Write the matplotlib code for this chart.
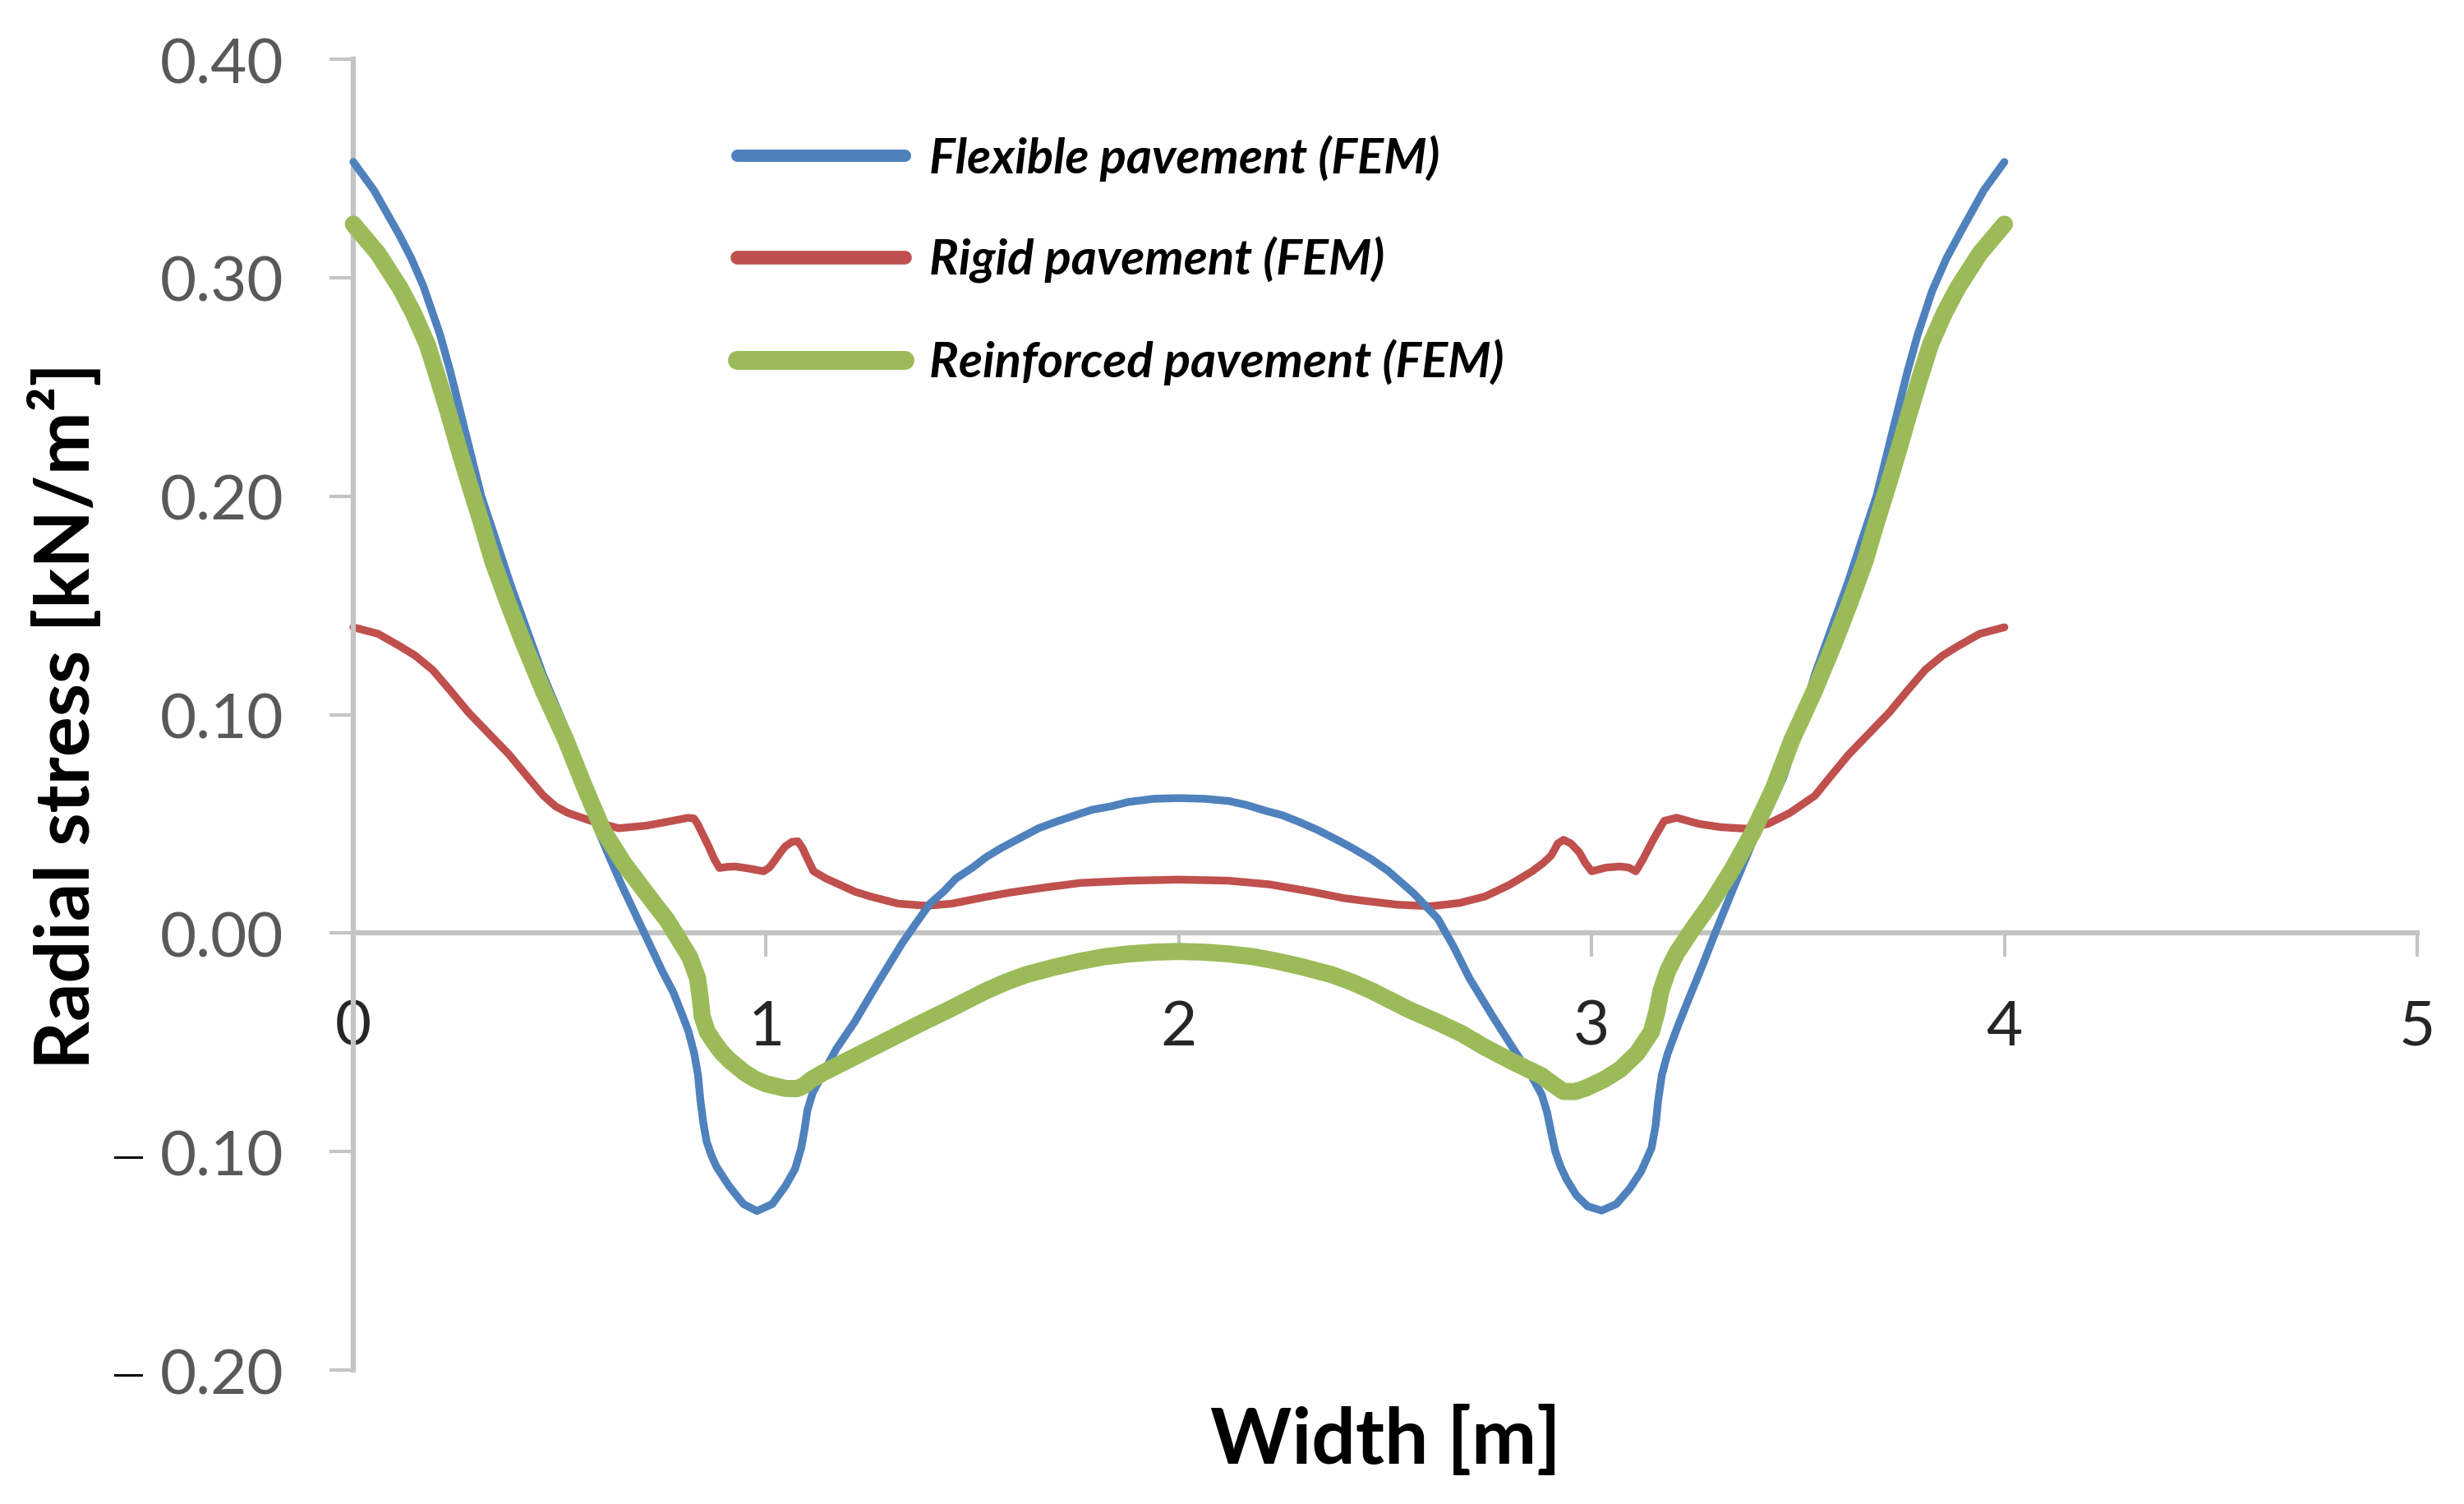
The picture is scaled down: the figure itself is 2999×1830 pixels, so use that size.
import matplotlib

matplotlib.use("Agg")

import matplotlib.pyplot as plt
import matplotlib.transforms as mtransforms

plt.rcParams.update({
    "font.family": ["Lato", "DejaVu Sans"],
})

BLUE = "#4F81BD"
RED = "#C0504D"
GREEN = "#9BBB59"
AXIS_GREY = "#C4C4C4"

# --- data: (width m, radial stress kN/m2) -----------------------------------
flexible = [
    (0.00, 0.353), (0.05, 0.340), (0.11, 0.320), (0.14, 0.309), (0.17, 0.296),
    (0.21, 0.274), (0.235, 0.257), (0.26, 0.238), (0.285, 0.219), (0.31, 0.200),
    (0.34, 0.183), (0.38, 0.160), (0.42, 0.139), (0.46, 0.118), (0.50, 0.100),
    (0.53, 0.086), (0.56, 0.068), (0.59, 0.0485), (0.62, 0.035), (0.65, 0.022),
    (0.70, 0.002), (0.75, -0.018), (0.775, -0.027), (0.795, -0.0365), (0.812, -0.045),
    (0.826, -0.0552), (0.835, -0.065), (0.841, -0.0768), (0.848, -0.087), (0.856, -0.0955),
    (0.868, -0.102), (0.88, -0.107), (0.91, -0.1157), (0.945, -0.124), (0.978, -0.1272),
    (1.015, -0.124), (1.047, -0.1157), (1.07, -0.108), (1.085, -0.0984), (1.093, -0.090),
    (1.10, -0.0811), (1.113, -0.073), (1.131, -0.0667), (1.17, -0.053), (1.214, -0.0408),
    (1.27, -0.023), (1.329, -0.0048), (1.365, 0.005), (1.397, 0.0135), (1.43, 0.019),
    (1.46, 0.025), (1.50, 0.030), (1.534, 0.0349), (1.57, 0.039), (1.62, 0.044),
    (1.66, 0.048), (1.706, 0.0512), (1.75, 0.054), (1.79, 0.0565), (1.835, 0.058),
    (1.877, 0.060), (1.94, 0.0615), (2.00, 0.0618), (2.06, 0.0615), (2.12, 0.0605),
    (2.163, 0.0587), (2.21, 0.056), (2.25, 0.054), (2.29, 0.051), (2.334, 0.0474),
    (2.38, 0.043), (2.42, 0.039), (2.465, 0.034), (2.506, 0.0286), (2.54, 0.023),
    (2.57, 0.018), (2.60, 0.012), (2.627, 0.0067), (2.665, -0.006), (2.704, -0.0207),
    (2.76, -0.038), (2.818, -0.0552), (2.85, -0.064), (2.879, -0.0739), (2.892, -0.082),
    (2.902, -0.0912), (2.912, -0.100), (2.925, -0.107), (2.94, -0.113), (2.963, -0.120),
    (2.99, -0.125), (3.024, -0.127), (3.06, -0.124), (3.092, -0.117), (3.12, -0.109),
    (3.145, -0.0984), (3.155, -0.088), (3.161, -0.0768), (3.17, -0.065), (3.184, -0.0552),
    (3.21, -0.042), (3.237, -0.0293), (3.268, -0.015), (3.298, -0.0005), (3.34, 0.019),
    (3.389, 0.0413), (3.43, 0.057), (3.465, 0.0715), (3.50, 0.092), (3.54, 0.118),
    (3.58, 0.139), (3.62, 0.160), (3.66, 0.183), (3.69, 0.200), (3.715, 0.219),
    (3.74, 0.238), (3.765, 0.257), (3.79, 0.274), (3.825, 0.294), (3.86, 0.309),
    (3.90, 0.323), (3.95, 0.340), (4.00, 0.353),
]

rigid = [
    (0.00, 0.140), (0.06, 0.137), (0.113, 0.1313), (0.15, 0.127), (0.192, 0.1205),
    (0.235, 0.111), (0.279, 0.101), (0.33, 0.091), (0.378, 0.0816), (0.42, 0.072),
    (0.46, 0.063), (0.49, 0.058), (0.52, 0.055), (0.577, 0.0513), (0.643, 0.048),
    (0.71, 0.0492), (0.776, 0.0515), (0.811, 0.0528), (0.825, 0.0525), (0.834, 0.050),
    (0.847, 0.045), (0.86, 0.040), (0.874, 0.034), (0.887, 0.0298), (0.905, 0.0303),
    (0.925, 0.0305), (0.96, 0.0295), (0.994, 0.0283), (1.008, 0.030), (1.02, 0.033),
    (1.035, 0.037), (1.047, 0.0398), (1.063, 0.0418), (1.077, 0.042), (1.088, 0.039),
    (1.10, 0.0341), (1.115, 0.0283), (1.145, 0.025), (1.18, 0.022), (1.215, 0.019),
    (1.252, 0.0168), (1.32, 0.0135), (1.389, 0.0125), (1.45, 0.0135), (1.53, 0.0165),
    (1.592, 0.0186), (1.68, 0.021), (1.763, 0.023), (1.88, 0.024), (2.00, 0.0245),
    (2.12, 0.024), (2.22, 0.0223), (2.32, 0.019), (2.40, 0.016), (2.449, 0.0148),
    (2.53, 0.013), (2.61, 0.0123), (2.68, 0.0138), (2.742, 0.0168), (2.80, 0.022),
    (2.856, 0.0283), (2.882, 0.032), (2.902, 0.0355), (2.918, 0.041), (2.932, 0.0427),
    (2.95, 0.041), (2.97, 0.037), (2.985, 0.032), (3.00, 0.0283), (3.035, 0.030),
    (3.069, 0.0305), (3.09, 0.030), (3.107, 0.0283), (3.125, 0.034), (3.145, 0.0413),
    (3.162, 0.047), (3.176, 0.0514), (3.206, 0.0528), (3.26, 0.050), (3.313, 0.0485),
    (3.374, 0.0478), (3.427, 0.050), (3.48, 0.055), (3.541, 0.0629), (3.58, 0.072),
    (3.622, 0.0816), (3.67, 0.091), (3.721, 0.101), (3.765, 0.111), (3.808, 0.1205),
    (3.85, 0.127), (3.887, 0.1313), (3.94, 0.137), (4.00, 0.140),
]

reinforced = [
    (0.00, 0.3245), (0.06, 0.311), (0.113, 0.2954), (0.145, 0.284), (0.179, 0.2695),
    (0.205, 0.254), (0.232, 0.2371), (0.255, 0.222), (0.279, 0.2068), (0.31, 0.188),
    (0.338, 0.1701), (0.375, 0.151), (0.411, 0.1334), (0.46, 0.111), (0.514, 0.0888),
    (0.56, 0.067), (0.605, 0.047), (0.655, 0.032), (0.704, 0.0197), (0.735, 0.012),
    (0.76, 0.006), (0.795, -0.0048), (0.815, -0.011), (0.834, -0.0207), (0.84, -0.029),
    (0.845, -0.038), (0.857, -0.045), (0.872, -0.0494), (0.89, -0.054), (0.91, -0.058),
    (0.948, -0.0639), (0.975, -0.067), (1.00, -0.069), (1.047, -0.0711), (1.075, -0.0712),
    (1.093, -0.0696), (1.11, -0.067), (1.138, -0.0639), (1.21, -0.057), (1.29, -0.0494),
    (1.367, -0.042), (1.443, -0.035), (1.533, -0.0264), (1.58, -0.0225), (1.63, -0.019),
    (1.70, -0.0155), (1.763, -0.0128), (1.82, -0.0108), (1.88, -0.0095), (1.94, -0.0087),
    (2.00, -0.0084), (2.06, -0.0087), (2.12, -0.0095), (2.18, -0.0108), (2.237, -0.0128),
    (2.30, -0.0155), (2.37, -0.019), (2.42, -0.0225), (2.467, -0.0264), (2.557, -0.035),
    (2.627, -0.0408), (2.685, -0.046), (2.742, -0.0523), (2.81, -0.059), (2.879, -0.0653),
    (2.905, -0.069), (2.932, -0.0725), (2.96, -0.0725), (2.985, -0.071), (3.03, -0.067),
    (3.069, -0.0624), (3.11, -0.055), (3.145, -0.0451), (3.158, -0.036), (3.168, -0.0264),
    (3.185, -0.017), (3.206, -0.0091), (3.245, 0.002), (3.29, 0.0139), (3.34, 0.029),
    (3.389, 0.0456), (3.44, 0.066), (3.486, 0.0888), (3.54, 0.111), (3.589, 0.1334),
    (3.625, 0.151), (3.662, 0.1701), (3.69, 0.188), (3.721, 0.2068), (3.745, 0.222),
    (3.768, 0.2371), (3.795, 0.254), (3.821, 0.2695), (3.855, 0.284), (3.887, 0.2954),
    (3.94, 0.311), (4.00, 0.3245),
]

labels = ["Flexible pavement (FEM)", "Rigid pavement (FEM)", "Reinforced pavement (FEM)"]
x_ticks = [0, 1, 2, 3, 4, 5]
y_ticks = [-0.20, -0.10, 0.00, 0.10, 0.20, 0.30, 0.40]
y_ticklabels = ["0.20", "0.10", "0.00", "0.10", "0.20", "0.30", "0.40"]

# --- figure -----------------------------------------------------------------
fig = plt.figure(figsize=(29.99, 18.31), dpi=100)
ax = fig.add_axes([0.1434, 0.0890, 0.8376, 0.8711])

line_kw = dict(solid_capstyle="round", solid_joinstyle="round", clip_on=False)
series = [(flexible, BLUE, 6.8, 3), (rigid, RED, 6.8, 2), (reinforced, GREEN, 15, 4)]
for (pts, color, lw, z), label in zip(series, labels):
    xs, ys = zip(*pts)
    ax.plot(xs, ys, color=color, lw=lw, label=label, zorder=z, **line_kw)

ax.set_xlim(0, 5)
ax.set_ylim(-0.20, 0.40)

for spine in ("top", "right"):
    ax.spines[spine].set_visible(False)
ax.spines["bottom"].set_position(("data", 0))
for spine in ("left", "bottom"):
    ax.spines[spine].set_color(AXIS_GREY)
    ax.spines[spine].set_linewidth(4.5)

ax.set_xticks(x_ticks)
ax.set_xticklabels([str(t) for t in x_ticks])
ax.set_yticks(y_ticks)
ax.set_yticklabels(y_ticklabels)
ax.tick_params(axis="x", direction="out", length=21, width=3, color=AXIS_GREY,
               labelsize=55, labelcolor="#262626", pad=36)
ax.tick_params(axis="y", direction="out", length=21, width=3, color=AXIS_GREY,
               labelsize=55, labelcolor="#595959", pad=40)

# black minus signs in front of the negative labels
blend = mtransforms.blended_transform_factory(fig.transFigure, ax.transData)
for yv in y_ticks:
    if yv < 0:
        ax.text(0.052, yv - 0.002, "\u2014", transform=blend, ha="center",
                va="center", fontsize=28, color="black", family="DejaVu Sans")

ax.set_xlabel("Width [m]", fontsize=68, fontweight="bold", color="black", va="center")
ax.xaxis.set_label_coords(0.5, -0.0533)
ax.set_ylabel("Radial stress [kN/m\u00b2]", fontsize=66, fontweight="bold",
              color="black", va="center")
ax.yaxis.set_label_coords((80 - 430) / 2512.0, 0.5)

leg = ax.legend(loc="upper left", bbox_to_anchor=(0.2991, 0.9104),
                bbox_transform=fig.transFigure, frameon=False, borderpad=0,
                borderaxespad=0, handlelength=3.42, handletextpad=0.5,
                labelspacing=1.13, prop=dict(family="Lato", size=43,
                                             weight="bold", style="italic"))
for handle, lw in zip(leg.legend_handles, [10.8, 12, 16.5]):
    handle.set_linewidth(lw)
    handle.set_solid_capstyle("round")

fig.savefig("out.png", dpi=100, facecolor="white")
